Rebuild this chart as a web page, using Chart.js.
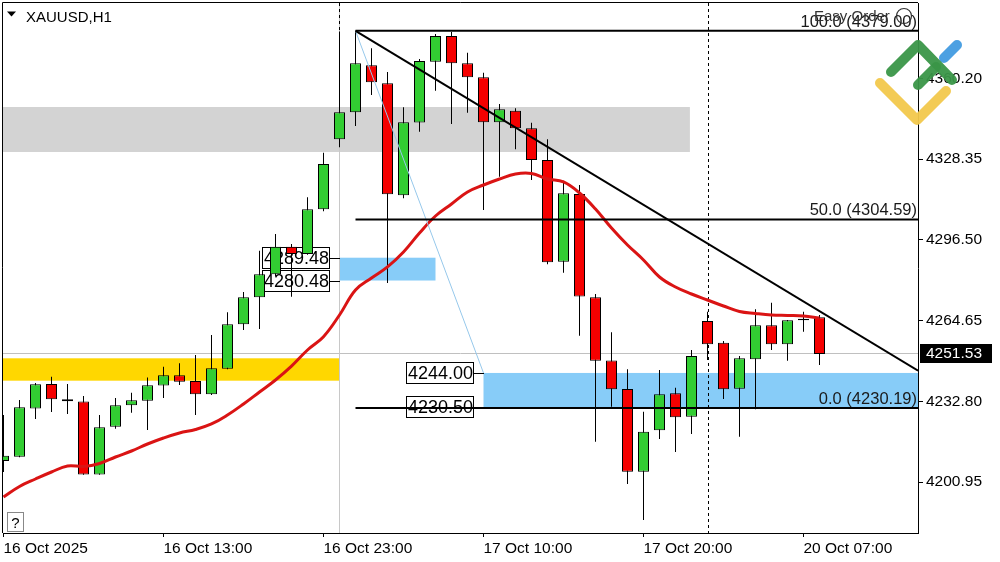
<!DOCTYPE html>
<html>
<head>
<title>XAUUSD,H1</title>
<script src="https://cdn.jsdelivr.net/npm/chart.js"></script>
<style>
  html, body { margin: 0; padding: 0; background: #fff; }
  #box { width: 1000px; height: 562px; }
</style>
</head>
<body>
<div id="box"><canvas id="chart" width="1000" height="562"></canvas></div>
<script>
// time axis labels and the bar they sit on
const tickLabels = ['16 Oct 2025', '16 Oct 13:00', '16 Oct 23:00', '17 Oct 10:00', '17 Oct 20:00', '20 Oct 07:00'];
const tickBars = [0, 10, 20, 30, 40, 50];
const priceTicks = [4200.95, 4232.80, 4264.65, 4296.50, 4328.35, 4360.20];

// H1 candles
const opens = [4209.26, 4210.95, 4229.97, 4239.64, 4233.60, 4232.73, 4203.93, 4222.79, 4231.24, 4233.05,
  4239.05, 4243.08, 4240.82, 4235.58, 4245.68, 4263.20, 4273.86, 4282.93, 4293.83, 4290.94,
  4308.58, 4336.21, 4346.86, 4365.41, 4358.31, 4314.11, 4342.84, 4366.83, 4376.97, 4366.20,
  4360.68, 4342.92, 4347.49, 4340.55, 4328.04, 4287.91, 4314.62, 4273.86, 4248.92, 4237.67,
  4205.03, 4221.37, 4235.97, 4226.74, 4264.50, 4255.94, 4237.79, 4249.39, 4262.81, 4255.31,
  4264.78, 4265.97];
const highs = [4227.41, 4233.33, 4240.04, 4242.52, 4239.64, 4234.91, 4227.41, 4234.12, 4236.21, 4242.21,
  4246.47, 4247.81, 4251.09, 4258.98, 4267.94, 4275.95, 4292.25, 4298.84, 4294.89, 4313.32,
  4330.92, 4378.80, 4379.00, 4372.12, 4362.77, 4348.84, 4367.90, 4377.76, 4378.60, 4370.38,
  4362.49, 4350.14, 4348.44, 4342.76, 4336.21, 4319.87, 4318.17, 4275.16, 4260.04, 4245.44,
  4228.71, 4245.17, 4238.18, 4253.06, 4268.17, 4256.61, 4250.69, 4269.12, 4271.73, 4264.90,
  4268.17, 4266.87];
const lows = [4204.91, 4210.71, 4225.83, 4228.59, 4227.80, 4203.85, 4203.85, 4222.00, 4228.32, 4221.49,
  4234.12, 4239.25, 4227.41, 4235.30, 4245.44, 4260.95, 4261.35, 4282.26, 4274.09, 4290.67,
  4307.80, 4333.05, 4341.46, 4353.69, 4279.50, 4312.93, 4339.21, 4355.39, 4342.25, 4346.71,
  4308.31, 4321.45, 4332.26, 4320.15, 4286.88, 4283.56, 4258.70, 4216.87, 4230.68, 4200.18,
  4185.97, 4217.94, 4212.81, 4219.91, 4249.11, 4233.72, 4218.85, 4229.66, 4253.06, 4248.84,
  4260.28, 4247.14];
const closes = [4211.35, 4230.45, 4239.56, 4233.60, 4232.81, 4203.93, 4222.55, 4231.24, 4233.21, 4239.13,
  4243.08, 4240.55, 4235.58, 4245.84, 4263.20, 4273.86, 4282.93, 4293.83, 4290.94, 4308.58,
  4326.46, 4346.86, 4366.20, 4358.70, 4314.50, 4342.92, 4367.11, 4376.97, 4366.20, 4360.68,
  4342.92, 4348.05, 4340.55, 4328.04, 4287.67, 4314.90, 4274.17, 4248.84, 4237.55, 4205.03,
  4220.82, 4235.58, 4226.50, 4250.69, 4255.31, 4237.55, 4249.78, 4262.81, 4255.31, 4264.78,
  4265.41, 4251.53];
// moving average
const maValues = [4195.05, 4199.19, 4202.15, 4204.91, 4207.28, 4207.09, 4208.27, 4210.83, 4213.20, 4215.96,
  4218.33, 4220.31, 4221.69, 4223.86, 4227.41, 4231.75, 4236.48, 4241.22, 4246.70, 4253.06,
  4258.31, 4266.87, 4276.74, 4281.47, 4285.84, 4291.73, 4299.23, 4305.94, 4310.68, 4315.41,
  4318.17, 4320.55, 4322.51, 4322.71, 4320.54, 4319.36, 4315.02, 4308.70, 4301.20, 4294.50,
  4288.58, 4281.87, 4277.92, 4275.16, 4272.79, 4270.42, 4268.25, 4267.47, 4266.87, 4266.68,
  4266.48, 4265.69];

const lastPrice = 4251.53;

// zones: bar range and price range
const zoneFrom = [-1, -1, 21, 30];
const zoneTo = [42.9, 21, 27, 60];
const zoneTop = [4348.95, 4249.78, 4289.48, 4244.00];
const zoneBottom = [4331.20, 4240.95, 4280.48, 4230.50];
const zoneLabelled = [false, false, true, true];

// fibonacci
const fibNames = ['100.0', '50.0', '0.0'];
const fibPrices = [4379.00, 4304.59, 4230.19];
const fibStartBar = 22;
const fibDiagBars = [22, 30];
const fibDiagPrices = [4379.00, 4244.00];

// trend line
const trendBars = [22, 57.16];
const trendPrices = [4379.00, 4244.89];

const separatorBars = [21, 44];

const X_MIN = -0.03125, X_MAX = 57.15625;
const Y_MIN = 4180.84, Y_MAX = 4390.00;
const FONT = '"Liberation Sans", Arial, sans-serif';
const zoneColors = ['rgb(211,211,211)', 'rgb(255,215,0)', 'rgb(135,204,248)', 'rgb(135,204,248)'];
const bull = 'rgb(50,205,50)', bear = 'rgb(245,0,0)';

Chart.defaults.font.family = FONT;
Chart.defaults.font.size = 15.5;
Chart.defaults.color = '#000';

const bars = opens.map((_, i) => i);

const overlay = {
  id: 'overlay',
  beforeDatasetsDraw(chart) {
    const { ctx, chartArea: a, scales: { x, y } } = chart;
    ctx.save();
    ctx.beginPath();
    ctx.rect(a.left, a.top, a.right - a.left, a.bottom - a.top);
    ctx.clip();
    zoneFrom.forEach((f, i) => {
      const x1 = x.getPixelForValue(f), x2 = x.getPixelForValue(zoneTo[i]);
      const y1 = y.getPixelForValue(zoneTop[i]), y2 = y.getPixelForValue(zoneBottom[i]);
      ctx.fillStyle = zoneColors[i];
      ctx.fillRect(x1, y1, x2 - x1, y2 - y1);
    });
    // bid line
    const by = Math.round(y.getPixelForValue(lastPrice)) - 0.5;
    ctx.strokeStyle = '#c0c0c0';
    ctx.lineWidth = 1;
    ctx.beginPath(); ctx.moveTo(a.left, by); ctx.lineTo(a.right, by); ctx.stroke();
    // vertical line on first separator
    const sx = Math.round(x.getPixelForValue(separatorBars[0])) - 0.5;
    ctx.strokeStyle = '#c8c8c8';
    ctx.beginPath(); ctx.moveTo(sx, a.top); ctx.lineTo(sx, a.bottom); ctx.stroke();
    // period separators
    ctx.strokeStyle = '#000';
    ctx.setLineDash([3, 3]);
    const fy = y.getPixelForValue(fibPrices[0]);
    ctx.beginPath(); ctx.moveTo(sx, a.top); ctx.lineTo(sx, fy); ctx.stroke();
    const sx2 = Math.round(x.getPixelForValue(separatorBars[1])) + 0.5;
    ctx.beginPath(); ctx.moveTo(sx2, a.top); ctx.lineTo(sx2, a.bottom); ctx.stroke();
    ctx.setLineDash([]);
    ctx.restore();

    // price boxes of the zones
    ctx.save();
    ctx.font = '18px ' + FONT;
    ctx.textBaseline = 'middle';
    zoneFrom.forEach((f, i) => {
      if (!zoneLabelled[i]) return;
      const zx = Math.round(x.getPixelForValue(f));
      [zoneTop[i], zoneBottom[i]].forEach(p => {
        const py = Math.round(y.getPixelForValue(p));
        const bw = 68, bh = 22, bx = zx - 10 - bw;
        ctx.fillStyle = '#fff';
        ctx.fillRect(bx, py - bh / 2, bw, bh);
        ctx.strokeStyle = '#000';
        ctx.lineWidth = 1;
        ctx.strokeRect(bx + 0.5, py - bh / 2 + 0.5, bw - 1, bh - 1);
        ctx.beginPath(); ctx.moveTo(bx + bw, py + 0.5); ctx.lineTo(zx, py + 0.5); ctx.stroke();
        ctx.fillStyle = '#000';
        ctx.fillText(p.toFixed(2), bx + 2, py + 1);
      });
    });
    ctx.restore();
  },
  afterDatasetsDraw(chart) {
    const { ctx, chartArea: a, scales: { y } } = chart;
    ctx.save();
    ctx.font = '16.5px ' + FONT;
    ctx.textAlign = 'right';
    ctx.textBaseline = 'alphabetic';
    ctx.fillStyle = '#1a1a1a';
    fibPrices.forEach((p, i) => {
      ctx.fillText(fibNames[i] + ' (' + p.toFixed(2) + ')', a.right - 1, y.getPixelForValue(p) - 4);
    });
    ctx.restore();
  },
  afterDraw(chart) {
    const { ctx, chartArea: a, scales: { y } } = chart;
    ctx.save();
    // frame
    ctx.strokeStyle = '#000';
    ctx.lineWidth = 1;
    ctx.beginPath();
    ctx.moveTo(2.5, a.bottom); ctx.lineTo(2.5, 2.5); ctx.lineTo(a.right, 2.5);
    ctx.stroke();
    // title
    ctx.fillStyle = '#000';
    ctx.beginPath(); ctx.moveTo(7, 11.5); ctx.lineTo(16, 11.5); ctx.lineTo(11.5, 16.5); ctx.closePath(); ctx.fill();
    ctx.font = '15px ' + FONT;
    ctx.textBaseline = 'alphabetic';
    ctx.fillText('XAUUSD,H1', 26, 21.5);
    // help box
    ctx.fillStyle = '#fff';
    ctx.fillRect(7, 512, 17, 20);
    ctx.strokeStyle = '#888';
    ctx.strokeRect(7.5, 512.5, 16, 19);
    ctx.fillStyle = '#000';
    ctx.textAlign = 'center';
    ctx.fillText('?', 15.5, 528);
    // current price on the axis
    const py = y.getPixelForValue(lastPrice);
    ctx.fillStyle = '#000';
    ctx.fillRect(a.right + 2, Math.round(py) - 10, 72, 19);
    ctx.fillStyle = '#fff';
    ctx.textAlign = 'left';
    ctx.textBaseline = 'middle';
    ctx.font = '15.5px ' + FONT;
    ctx.fillText(lastPrice.toFixed(2), a.right + 8, py);
    // Easy Order caption
    ctx.fillStyle = '#333';
    ctx.font = '15px ' + FONT;
    ctx.textBaseline = 'alphabetic';
    ctx.fillText('Easy Order', 814, 21);
    ctx.strokeStyle = '#333';
    ctx.lineWidth = 1.2;
    ctx.beginPath(); ctx.arc(904, 16, 7.5, 0, Math.PI * 2); ctx.stroke();
    // logo
    const stroke = (pts, color) => {
      ctx.strokeStyle = color; ctx.lineWidth = 10; ctx.lineCap = 'round'; ctx.lineJoin = 'round';
      ctx.beginPath();
      pts.forEach((p, k) => k ? ctx.lineTo(p[0], p[1]) : ctx.moveTo(p[0], p[1]));
      ctx.stroke();
    };
    ctx.globalAlpha = 0.95;
    stroke([[880, 83], [917, 120], [946, 91]], 'rgb(242,200,76)');
    stroke([[944, 58], [957, 45]], 'rgb(66,155,224)');
    stroke([[891, 72], [918, 45], [952, 80]], 'rgb(58,150,72)');
    stroke([[918, 85], [936, 67]], 'rgb(58,150,72)');
    ctx.restore();
  }
};

new Chart(document.getElementById('chart'), {
  type: 'bar',
  data: {
    datasets: [
      {
        label: 'wick',
        data: bars.map(i => ({ x: i, y: [lows[i], highs[i]] })),
        backgroundColor: '#000',
        barThickness: 1,
        grouped: false,
        inflateAmount: 0,
        order: 4
      },
      {
        label: 'body',
        data: bars.map(i => ({ x: i, y: [opens[i], closes[i]] })),
        backgroundColor: bars.map(i => closes[i] >= opens[i] ? bull : bear),
        borderColor: '#000',
        borderWidth: 1,
        borderSkipped: false,
        barThickness: 11,
        grouped: false,
        inflateAmount: 0,
        order: 3
      },
      {
        type: 'line',
        label: 'MA',
        data: bars.map(i => ({ x: i, y: maValues[i] })),
        borderColor: 'rgb(218,20,20)',
        borderWidth: 3,
        pointRadius: 0,
        tension: 0.4,
        order: 2
      },
      {
        type: 'line',
        label: 'fib diagonal',
        data: fibDiagBars.map((b, i) => ({ x: b, y: fibDiagPrices[i] })),
        borderColor: 'rgb(150,200,235)',
        borderWidth: 1,
        pointRadius: 0,
        order: 1
      },
      ...fibPrices.map(p => ({
        type: 'line',
        label: 'fib',
        data: [{ x: fibStartBar, y: p }, { x: X_MAX, y: p }],
        borderColor: '#000',
        borderWidth: 2,
        pointRadius: 0,
        order: 0
      })),
      {
        type: 'line',
        label: 'trend',
        data: trendBars.map((b, i) => ({ x: b, y: trendPrices[i] })),
        borderColor: '#000',
        borderWidth: 2,
        pointRadius: 0,
        order: 0
      }
    ]
  },
  options: {
    responsive: false,
    animation: false,
    events: [],
    layout: { padding: { left: 3, top: 3, right: 0, bottom: 0 } },
    plugins: { legend: { display: false }, tooltip: { enabled: false } },
    scales: {
      x: {
        type: 'linear',
        min: X_MIN,
        max: X_MAX,
        offset: false,
        afterBuildTicks: s => { s.ticks = tickBars.map(v => ({ value: v })); },
        afterFit: s => { s.height = 29; s.paddingLeft = 0; s.paddingRight = 0; },
        ticks: {
          callback: (v, i) => tickLabels[i],
          align: 'start',
          maxRotation: 0,
          autoSkip: false,
          padding: 2,
          color: '#000'
        },
        grid: { offset: false, drawOnChartArea: false, tickLength: 4, color: '#000' },
        border: { display: true, color: '#000' }
      },
      y: {
        type: 'linear',
        position: 'right',
        min: Y_MIN,
        max: Y_MAX,
        beginAtZero: false,
        afterBuildTicks: s => { s.ticks = priceTicks.map(v => ({ value: v })); },
        afterFit: s => { s.width = 82; s.paddingTop = 0; s.paddingBottom = 0; },
        ticks: {
          callback: v => v.toFixed(2),
          padding: 3,
          color: '#000'
        },
        grid: { drawOnChartArea: false, tickLength: 5, color: '#000' },
        border: { display: true, color: '#000' }
      }
    }
  },
  plugins: [overlay]
});
</script>
</body>
</html>
